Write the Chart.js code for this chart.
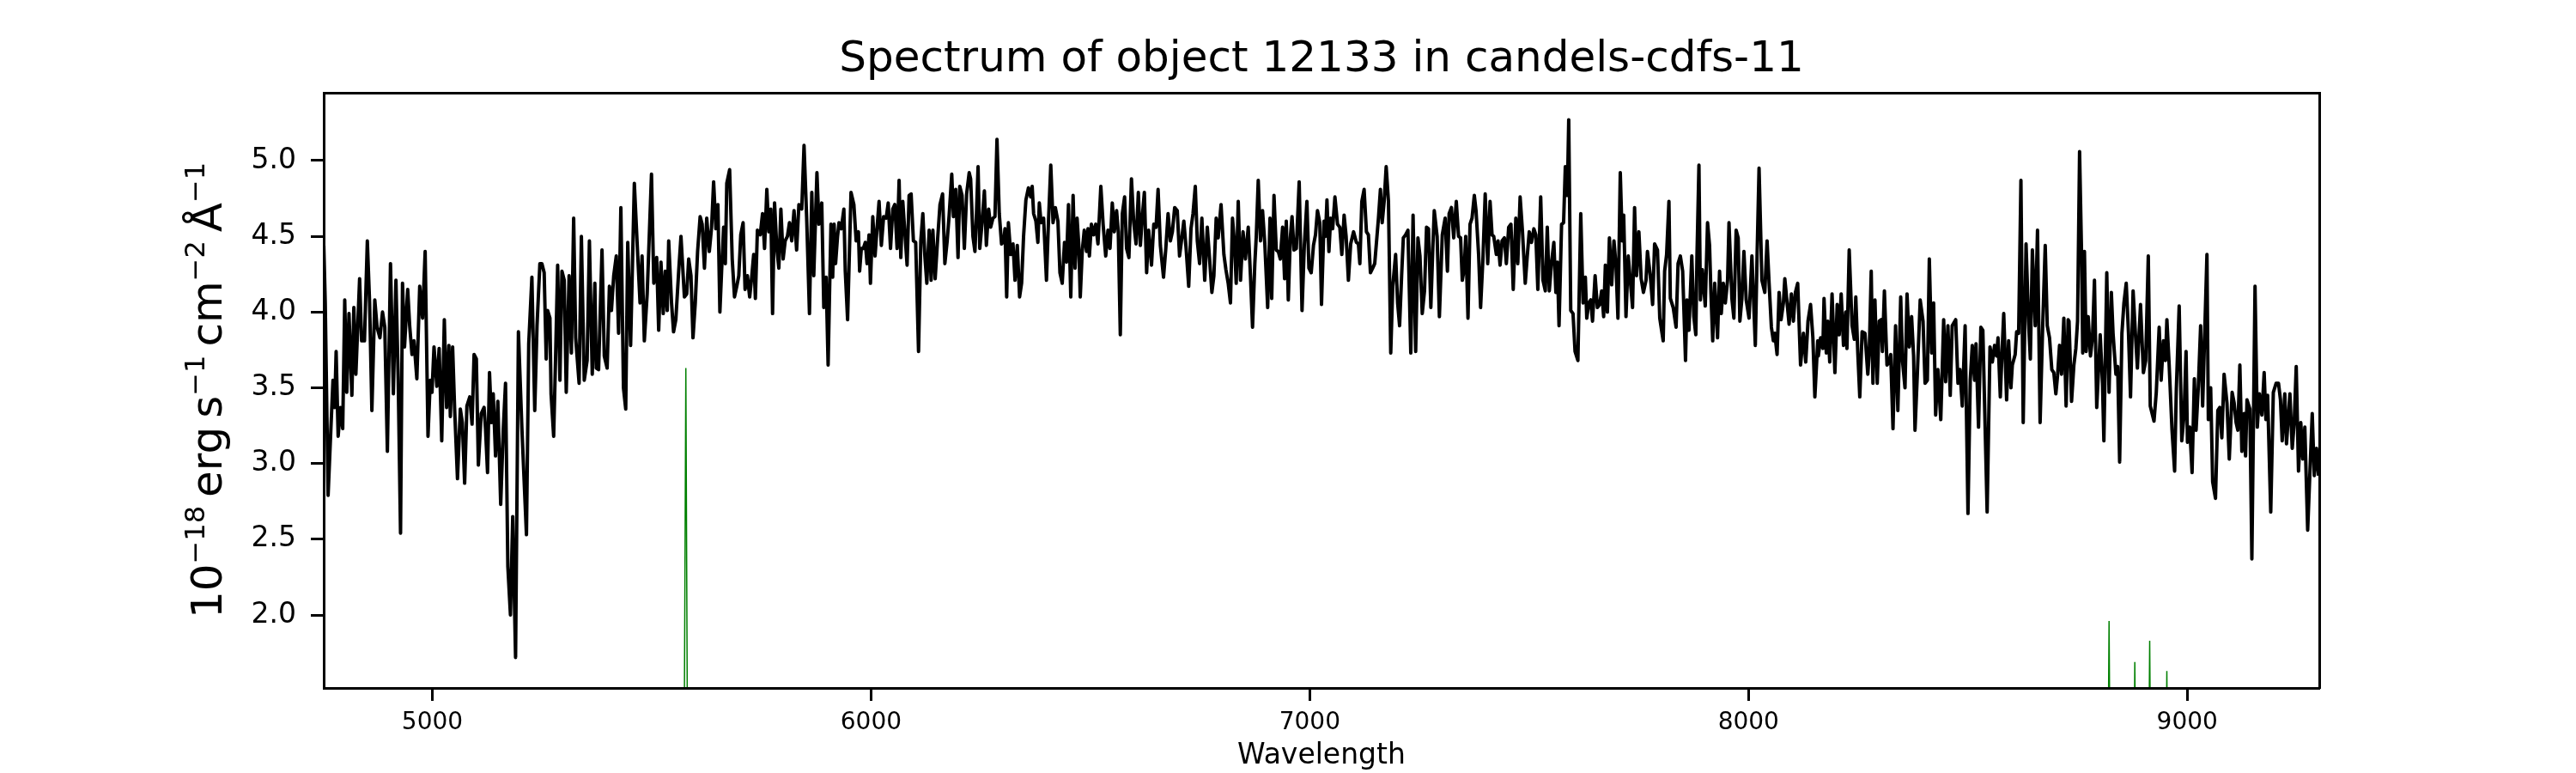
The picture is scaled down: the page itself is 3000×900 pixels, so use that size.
<!DOCTYPE html>
<html>
<head>
<meta charset="utf-8">
<title>Spectrum of object 12133 in candels-cdfs-11</title>
<script src="https://cdn.jsdelivr.net/npm/chart.js@4.4.1/dist/chart.umd.min.js"></script>
<style>
  html, body { margin: 0; padding: 0; background: #fff; }
  #chart { display: block; }
</style>
</head>
<body>
<canvas id="chart" width="3000" height="900"></canvas>
<script>
// Spectrum: wavelength in Angstrom, flux in 1e-18 erg/s/cm2/A
const wavelength = [
  4752.7, 4756.0, 4762.5, 4769.0, 4773.6, 4777.5, 4780.8, 4785.4, 4790.6, 4795.8,
  4800.4, 4805.0, 4810.1, 4816.7, 4821.2, 4825.8, 4834.3, 4838.9, 4845.4, 4851.9,
  4857.1, 4862.3, 4868.9, 4874.1, 4880.6, 4886.5, 4891.7, 4897.6, 4904.7, 4911.3,
  4917.1, 4922.3, 4927.6, 4932.1, 4936.7, 4943.9, 4948.4, 4953.7, 4958.2, 4964.8,
  4971.3, 4977.8, 4983.7, 4990.2, 4995.4, 4999.3, 5003.9, 5010.4, 5015.6, 5021.5,
  5027.4, 5032.6, 5037.8, 5041.1, 5046.3, 5050.9, 5057.4, 5063.9, 5068.5, 5073.7,
  5078.9, 5085.4, 5090.6, 5095.2, 5100.4, 5105.0, 5111.5, 5118.0, 5121.3, 5125.9,
  5130.4, 5135.0, 5138.9, 5144.1, 5149.4, 5155.9, 5161.7, 5166.9, 5172.2, 5178.1,
  5183.3, 5189.8, 5196.3, 5204.1, 5214.6, 5219.8, 5227.0, 5233.5, 5238.7, 5245.2,
  5249.8, 5255.0, 5259.6, 5262.9, 5268.1, 5270.7, 5276.6, 5281.1, 5285.7, 5290.9,
  5295.5, 5300.7, 5305.3, 5311.8, 5317.0, 5322.2, 5326.8,
  5334.6, 5339.8, 5346.3, 5352.9, 5358.1, 5364.6, 5370.5, 5373.7, 5379.0, 5386.8,
  5392.0, 5398.5, 5403.7, 5408.3, 5413.5, 5419.4, 5424.6, 5429.8, 5435.7, 5440.9,
  5445.5, 5452.0, 5460.5, 5468.3, 5473.5, 5478.1, 5483.3, 5489.8, 5499.6, 5504.9,
  5511.4, 5516.0, 5521.2, 5526.4, 5531.0, 5535.5, 5538.8, 5545.3, 5549.9, 5555.1,
  5561.6, 5566.8, 5574.6, 5579.9, 5584.4, 5589.6, 5594.2, 5599.4, 5604.7, 5610.5,
  5615.1, 5620.3, 5625.5, 5631.4, 5636.6, 5641.2, 5646.4, 5651.0, 5655.5, 5659.4,
  5664.0, 5667.9, 5671.2, 5677.7, 5683.6, 5688.8, 5694.0, 5698.6, 5703.1, 5708.4,
  5712.9, 5718.2, 5723.4, 5728.0, 5732.5, 5736.4, 5741.0, 5747.5, 5752.7, 5757.3,
  5762.5, 5767.1, 5771.6, 5775.6, 5780.1, 5785.3, 5789.9, 5794.5, 5799.7, 5804.3,
  5809.5, 5814.1, 5819.3, 5824.5, 5830.4, 5835.6, 5842.1, 5847.3, 5853.2, 5859.7,
  5865.0, 5869.5, 5876.7, 5881.2, 5887.7, 5892.3,
  5897.6, 5902.2, 5906.1, 5908.7, 5912.6, 5915.9, 5919.2, 5923.7, 5927.0, 5932.2,
  5938.1, 5941.3, 5946.6, 5954.4, 5960.9, 5966.1, 5971.3, 5974.0, 5977.9, 5982.4,
  5987.0, 5990.9, 5995.5, 5998.7, 6004.0, 6009.2, 6013.1, 6018.3, 6023.5, 6028.7,
  6034.6, 6039.2, 6044.4, 6049.6, 6054.2, 6059.4, 6064.0, 6067.9, 6072.4, 6077.7,
  6082.2, 6086.8, 6091.4, 6096.6, 6101.8, 6108.3, 6113.5, 6118.1, 6122.7, 6127.2,
  6132.5, 6137.0, 6141.0, 6146.2, 6152.0, 6157.2, 6163.1, 6168.3, 6173.6, 6178.1,
  6184.0, 6187.9, 6193.1, 6198.3, 6202.3, 6207.5, 6212.7, 6217.9, 6223.8, 6227.0,
  6232.3, 6236.8, 6240.1, 6244.0, 6247.9, 6253.1, 6258.4, 6262.9, 6268.1, 6272.7,
  6277.9, 6282.5, 6287.1, 6292.3, 6297.5, 6302.7, 6305.3, 6309.2, 6313.1, 6318.4,
  6323.6, 6328.2, 6333.4, 6338.6, 6343.2, 6347.7, 6353.0, 6358.8, 6364.0, 6367.3,
  6370.6, 6375.8, 6380.3, 6383.6, 6387.5, 6393.4, 6399.9, 6404.5, 6409.7, 6414.9,
  6420.1, 6426.0, 6430.6, 6435.8, 6441.0, 6445.6, 6450.1, 6455.3, 6460.6,
  6465.1, 6469.7, 6473.6, 6476.9, 6481.4, 6486.0, 6491.2, 6494.5, 6497.7, 6502.3,
  6507.6, 6512.1, 6517.3, 6523.8, 6529.0, 6534.9, 6540.1, 6544.7, 6549.9, 6554.5,
  6559.7, 6563.6, 6568.2, 6572.8, 6578.0, 6582.5, 6587.8, 6593.6, 6598.8, 6604.1,
  6609.3, 6613.9, 6618.4, 6623.0, 6628.2, 6632.8, 6639.3, 6644.5, 6649.7, 6654.3,
  6659.5, 6666.7, 6671.9, 6677.1, 6682.3, 6686.9, 6692.1, 6698.0, 6703.2, 6708.4,
  6713.0, 6718.2, 6724.1, 6729.3, 6733.9, 6739.1, 6743.7, 6748.9, 6754.1, 6760.6,
  6766.5, 6771.7, 6776.9, 6781.5, 6786.7, 6791.3, 6797.8, 6804.3, 6808.9, 6814.1,
  6819.3, 6823.9, 6828.5, 6832.4, 6837.0, 6842.2, 6848.0, 6853.3, 6859.8, 6865.0,
  6869.6, 6874.8, 6878.1, 6882.6, 6887.8, 6892.4, 6897.6, 6904.1, 6909.4, 6913.3,
  6918.5, 6923.7, 6928.3, 6932.8, 6938.1, 6942.6, 6946.5, 6951.1, 6955.7, 6959.6,
  6964.1, 6969.4, 6975.9, 6982.4, 6987.6, 6993.5, 6998.1, 7003.3, 7008.5, 7013.1,
  7017.6, 7022.9, 7026.8,
  7032.6, 7035.9, 7039.2, 7043.7, 7047.6, 7052.2, 7057.4, 7063.3, 7068.5, 7073.1,
  7078.3, 7082.9, 7088.1, 7093.3, 7099.8, 7106.3, 7110.9, 7114.2, 7118.7, 7123.9,
  7129.2, 7133.7, 7138.3, 7143.5, 7148.1, 7156.6, 7161.1, 7165.1, 7169.6, 7174.2,
  7179.4, 7184.6, 7189.2, 7195.7, 7200.3, 7204.8, 7209.4, 7213.3, 7218.5, 7223.8,
  7230.3, 7235.5, 7241.4, 7246.6, 7251.2, 7256.4, 7261.6, 7266.2, 7270.7, 7276.0,
  7280.5, 7283.8, 7290.3, 7295.5, 7302.1, 7308.6, 7313.8, 7317.7, 7322.9, 7328.1,
  7334.0, 7339.2, 7343.8, 7347.7, 7352.3, 7355.5, 7360.7, 7365.3, 7369.9, 7375.1,
  7379.0, 7384.9, 7389.4, 7394.7, 7399.9, 7405.7, 7411.0, 7415.5, 7419.4, 7425.3,
  7429.2, 7433.8, 7438.4, 7443.6, 7448.1, 7453.4, 7458.6, 7463.8, 7469.7, 7474.2,
  7479.5, 7484.7, 7491.2, 7495.8, 7500.3, 7505.5, 7510.8, 7515.3, 7519.9, 7526.4,
  7531.6, 7536.9, 7541.4, 7546.0, 7551.2, 7556.4, 7561.0, 7564.3, 7568.2, 7574.0,
  7578.6, 7582.5, 7587.1, 7590.3, 7594.9,
  7600.1, 7604.7, 7611.2, 7617.7, 7623.0, 7628.2, 7631.4, 7636.0, 7640.6, 7644.5,
  7650.4, 7655.6, 7660.8, 7665.4, 7669.9, 7673.8, 7678.4, 7683.0, 7688.2, 7693.4,
  7698.0, 7702.5, 7707.8, 7712.3, 7715.6, 7720.8, 7726.0, 7730.6, 7735.8, 7740.4,
  7744.9, 7750.2, 7755.4, 7760.6, 7766.5, 7769.7, 7776.3, 7781.5, 7786.0, 7792.6,
  7797.8, 7805.6, 7808.9, 7813.4, 7818.7, 7821.9, 7828.4, 7835.0, 7839.5, 7844.7,
  7850.0, 7856.5, 7859.7, 7864.3, 7870.8, 7875.4, 7880.0, 7882.6, 7887.1, 7890.4,
  7895.0, 7901.5, 7906.7, 7911.3, 7914.5, 7918.5, 7923.0, 7929.5, 7934.1, 7938.0,
  7942.6, 7947.2, 7952.4, 7955.6, 7962.2, 7966.7, 7971.9, 7976.5, 7980.4, 7985.0,
  7989.6, 7994.8, 8001.3, 8007.8, 8015.6, 8019.6, 8024.1, 8030.6, 8037.2, 8042.4,
  8047.0, 8052.2, 8056.7, 8060.0, 8065.2, 8069.8, 8074.3, 8079.6, 8082.8, 8087.4,
  8092.6, 8097.8, 8102.4, 8107.0, 8112.2, 8118.7, 8125.2, 8130.5, 8135.7, 8141.5,
  8146.8, 8151.3, 8157.9,
  8159.2, 8164.4, 8169.6, 8172.2, 8177.4, 8180.7, 8185.2, 8190.5, 8197.0, 8202.2,
  8206.8, 8211.3, 8216.6, 8221.8, 8224.4, 8229.6, 8236.1, 8241.3, 8244.6, 8249.2,
  8253.7, 8259.0, 8265.5, 8272.0, 8275.3, 8279.8, 8283.7, 8288.3, 8293.5, 8298.1,
  8302.7, 8305.3, 8309.8, 8315.7, 8320.9, 8324.2, 8329.4, 8335.3, 8340.5, 8347.0,
  8351.0, 8356.8, 8361.4, 8366.6, 8371.8, 8376.4, 8379.6, 8384.9, 8391.4, 8397.9,
  8402.5, 8407.7, 8412.2, 8417.5, 8422.0, 8426.6, 8431.8, 8438.3, 8444.9, 8449.4,
  8454.6, 8459.9, 8464.4, 8472.3, 8477.5, 8482.0, 8487.3, 8493.8, 8500.3, 8505.5,
  8510.1, 8515.3, 8518.6, 8524.4, 8529.7, 8534.2, 8539.4, 8544.0, 8550.5, 8555.8,
  8561.0, 8565.5, 8568.8, 8574.0, 8578.6, 8581.8, 8588.4, 8592.9, 8598.2, 8601.4,
  8607.9, 8611.2, 8615.8, 8621.0, 8626.2, 8632.7, 8638.6, 8642.5, 8647.1, 8653.6,
  8658.8, 8664.7, 8670.6, 8676.4, 8681.0, 8686.2, 8691.4, 8696.0, 8700.6, 8704.5,
  8709.0, 8713.6, 8718.8, 8724.0, 8728.6,
  8730.6, 8736.4, 8741.7, 8746.2, 8750.1, 8754.7, 8759.3, 8761.9, 8765.8, 8769.7,
  8774.3, 8779.5, 8784.1, 8788.6, 8793.8, 8801.7, 8806.9, 8810.1, 8816.7, 8821.9,
  8827.1, 8831.0, 8837.5, 8841.5, 8846.0, 8851.2, 8855.8, 8861.0, 8866.2, 8870.8,
  8876.7, 8881.9, 8886.5, 8893.6, 8900.2, 8905.4, 8911.3, 8915.8, 8924.3, 8929.5,
  8936.1, 8940.6, 8945.8, 8950.4, 8953.7, 8958.9, 8965.4, 8971.3, 8975.2, 8981.7,
  8987.6, 8992.8, 8997.4, 9000.6, 9005.8, 9011.1, 9016.3, 9020.2, 9025.4, 9030.6,
  9035.2, 9045.0, 9048.2, 9053.5, 9058.0, 9064.5, 9069.8, 9074.3, 9078.9, 9084.1,
  9090.6, 9095.9, 9102.4, 9107.0, 9111.5, 9115.4, 9120.0, 9124.6, 9129.8, 9133.0,
  9136.3, 9142.8, 9147.4, 9154.6, 9159.8, 9164.4, 9170.2, 9175.4, 9179.4, 9183.3,
  9190.4, 9196.3, 9202.8, 9208.1, 9212.6, 9216.5, 9222.4, 9226.3, 9234.1, 9239.4,
  9243.9, 9248.5, 9253.7, 9258.9, 9263.5, 9268.1, 9274.6, 9279.8, 9285.0, 9289.6,
  9294.8, 9299.4
];

const flux = [
  4.44, 4.06, 2.79, 3.24, 3.55, 3.37, 3.74, 3.18, 3.37, 3.23,
  4.08, 3.47, 3.99, 3.45, 4.03, 3.59, 4.22, 3.81, 3.81, 4.47,
  4.06, 3.35, 4.08, 3.90, 3.83, 4.00, 3.90, 3.08, 4.32, 3.46,
  4.21, 3.55, 2.54, 4.19, 3.77, 4.15, 3.91, 3.72, 3.81, 3.56,
  4.17, 3.96, 4.40, 3.18, 3.55, 3.47, 3.77, 3.51, 3.76, 3.15,
  3.95, 3.37, 3.78, 3.31, 3.77, 3.36, 2.90, 3.36, 3.27, 2.87,
  3.38, 3.44, 3.26, 3.72, 3.69, 2.99, 3.33, 3.37, 3.23, 2.94,
  3.60, 3.27, 3.46, 3.05, 3.41, 2.73, 3.22, 3.53, 2.32, 2.00,
  2.65, 1.72, 3.87, 3.24, 2.53, 3.79, 4.23, 3.35, 3.91, 4.32,
  4.32, 4.26, 3.69, 4.01, 3.96, 3.46, 3.18, 3.71, 4.31, 3.55,
  4.27, 4.21, 3.47, 4.24, 3.73, 4.62, 3.83,
  3.53, 4.50, 3.55, 3.68, 4.47, 3.59, 4.19, 3.63, 3.62, 4.41,
  3.71, 3.63, 4.17, 4.01, 4.24, 4.37, 3.86, 4.69, 3.50, 3.36,
  4.46, 3.78, 4.85, 4.37, 4.06, 4.37, 3.81, 4.12, 4.91, 4.19,
  4.36, 3.88, 4.33, 3.99, 4.27, 4.01, 4.47, 4.06, 3.87, 3.95,
  4.27, 4.50, 4.10, 4.12, 4.35, 4.24, 3.83, 4.06, 4.40, 4.63,
  4.58, 4.29, 4.62, 4.40, 4.56, 4.86, 4.55, 4.71, 4.00, 4.27,
  4.56, 4.32, 4.85, 4.94, 4.35, 4.10, 4.17, 4.24, 4.51, 4.59,
  4.15, 4.24, 4.10, 4.23, 4.38, 4.09, 4.54, 4.51, 4.65, 4.42,
  4.81, 4.53, 4.68, 3.99, 4.72, 4.42, 4.29, 4.68, 4.35, 4.47,
  4.50, 4.59, 4.47, 4.67, 4.41, 4.71, 4.68, 5.10, 4.63, 3.99,
  4.79, 4.24, 4.92, 4.58, 4.72, 4.03,
  4.23, 3.65, 4.22, 4.58, 4.23, 4.58, 4.32, 4.50, 4.59, 4.55,
  4.68, 4.27, 3.95, 4.79, 4.71, 4.47, 4.53, 4.27, 4.42, 4.42,
  4.46, 4.32, 4.51, 4.19, 4.63, 4.37, 4.53, 4.73, 4.44, 4.63,
  4.62, 4.72, 4.42, 4.68, 4.71, 4.42, 4.87, 4.36, 4.73, 4.50,
  4.31, 4.77, 4.78, 4.47, 4.46, 3.74, 4.47, 4.65, 4.37, 4.19,
  4.54, 4.21, 4.54, 4.22, 4.49, 4.71, 4.78, 4.32, 4.47, 4.64,
  4.91, 4.63, 4.81, 4.36, 4.83, 4.77, 4.42, 4.78, 4.92, 4.88,
  4.50, 4.40, 4.63, 4.96, 4.42, 4.59, 4.80, 4.44, 4.68, 4.56,
  4.62, 4.63, 5.14, 4.65, 4.45, 4.47, 4.55, 4.10, 4.59, 4.38,
  4.45, 4.21, 4.44, 4.10, 4.19, 4.50, 4.74, 4.82, 4.76, 4.83,
  4.65, 4.60, 4.46, 4.72, 4.59, 4.62, 4.21, 4.60, 4.97, 4.59,
  4.69, 4.60, 4.26, 4.19, 4.46, 4.33, 4.71, 4.10, 4.77,
  4.29, 4.62, 4.44, 4.10, 4.40, 4.54, 4.40, 4.55, 4.37, 4.58,
  4.51, 4.58, 4.45, 4.83, 4.58, 4.37, 4.54, 4.42, 4.72, 4.53,
  4.67, 4.53, 3.85, 4.65, 4.76, 4.42, 4.36, 4.88, 4.59, 4.45,
  4.79, 4.44, 4.63, 4.79, 4.26, 4.54, 4.31, 4.58, 4.56, 4.81,
  4.44, 4.23, 4.42, 4.65, 4.47, 4.53, 4.69, 4.67, 4.37, 4.49,
  4.60, 4.42, 4.17, 4.55, 4.65, 4.83, 4.47, 4.32, 4.62, 4.21,
  4.56, 4.35, 4.13, 4.24, 4.62, 4.49, 4.71, 4.38, 4.28, 4.19,
  4.06, 4.62, 4.45, 4.19, 4.73, 4.21, 4.53, 4.35, 4.56, 4.23,
  3.90, 4.32, 4.50, 4.87, 4.47, 4.67, 4.45, 4.03, 4.62, 4.09,
  4.77, 4.41, 4.40, 4.35, 4.56, 4.22, 4.60, 4.08, 4.49, 4.63,
  4.41, 4.42, 4.86, 4.01, 4.44, 4.73, 4.29, 4.26, 4.44, 4.51,
  4.67, 4.59, 4.05,
  4.60, 4.50, 4.74, 4.40, 4.62, 4.55, 4.76, 4.58, 4.56, 4.38,
  4.64, 4.50, 4.21, 4.45, 4.53, 4.46, 4.45, 4.32, 4.73, 4.81,
  4.53, 4.51, 4.26, 4.29, 4.32, 4.62, 4.81, 4.59, 4.73, 4.96,
  4.73, 3.73, 4.17, 4.38, 4.06, 3.91, 4.24, 4.49, 4.51, 4.54,
  3.73, 4.64, 3.74, 4.49, 4.37, 3.99, 4.14, 4.56, 4.55, 4.03,
  4.42, 4.67, 4.50, 3.97, 4.51, 4.62, 4.27, 4.65, 4.69, 4.49,
  4.73, 4.50, 4.49, 4.21, 4.29, 4.50, 3.96, 4.58, 4.62, 4.77,
  4.67, 4.38, 4.03, 4.35, 4.78, 4.32, 4.73, 4.51, 4.50, 4.38,
  4.47, 4.31, 4.47, 4.49, 4.32, 4.56, 4.58, 4.15, 4.62, 4.32,
  4.76, 4.54, 4.19, 4.37, 4.53, 4.46, 4.55, 4.51, 4.15, 4.76,
  4.21, 4.14, 4.56, 4.14, 4.33, 4.46, 4.13, 4.33, 3.91, 4.58,
  4.59, 4.96, 4.77, 5.27, 4.01,
  3.99, 3.74, 3.68, 4.65, 4.06, 4.23, 3.96, 4.06, 4.08, 3.94,
  4.24, 4.03, 4.05, 4.14, 3.97, 4.31, 4.00, 4.49, 4.18, 4.47,
  4.31, 3.96, 4.92, 4.47, 4.64, 3.97, 4.37, 4.21, 4.03, 4.69,
  4.24, 4.53, 4.22, 4.13, 4.21, 4.40, 4.24, 4.05, 4.45, 4.41,
  3.96, 3.81, 4.27, 4.38, 4.73, 4.09, 4.03, 3.90, 4.32, 4.37,
  4.27, 3.68, 4.08, 3.88, 4.37, 3.97, 3.85, 4.37, 4.97, 4.08,
  4.28, 4.04, 4.59, 4.44, 4.12, 3.81, 4.19, 3.83, 4.27, 3.99,
  4.19, 4.06, 4.21, 4.59, 4.09, 3.96, 4.54, 4.49, 3.94, 4.09,
  4.40, 4.08, 3.96, 4.37, 3.78, 4.37, 4.95, 4.21, 4.13, 4.47,
  4.19, 3.90, 3.81, 3.86, 3.72, 4.13, 3.95, 4.06, 4.22, 4.08,
  3.92, 4.12, 3.94, 4.13, 4.19, 3.65, 3.86, 3.67, 3.94, 4.05,
  3.83, 3.44, 3.81,
  3.71, 3.83, 3.76, 4.09, 3.73, 3.94, 3.67, 4.12, 3.60, 4.05,
  3.85, 4.12, 3.78, 4.00, 3.76, 4.41, 3.91, 3.82, 4.10, 3.73,
  3.44, 3.87, 3.86, 3.59, 3.73, 4.27, 3.53, 4.08, 3.53, 3.94,
  3.95, 3.74, 4.14, 3.65, 3.67, 3.72, 3.23, 3.91, 3.35, 4.10,
  3.68, 3.50, 4.12, 3.77, 3.97, 3.71, 3.22, 3.59, 4.08, 3.94,
  3.53, 3.55, 4.35, 3.73, 4.06, 3.32, 3.62, 3.29, 3.95, 3.54,
  3.91, 3.45, 3.91, 3.95, 3.53, 3.62, 3.38, 3.91, 2.67, 3.55,
  3.78, 3.55, 3.79, 3.24, 3.90, 3.88, 3.24, 2.68, 3.77, 3.67,
  3.78, 3.71, 3.83, 3.44, 3.78, 3.99, 3.42, 3.81, 3.50, 3.65,
  3.72, 3.87, 3.86, 4.87, 3.27, 4.45, 3.92, 3.69, 4.41, 3.91,
  4.54, 3.27, 3.91, 4.44, 3.91, 3.83, 3.62, 3.60, 3.46, 3.58,
  3.78, 3.59, 3.96, 3.38, 3.95,
  3.94, 3.41, 3.65, 3.76, 3.94, 5.06, 4.37, 3.73, 4.40, 3.74,
  3.97, 3.71, 3.83, 4.21, 3.37, 3.85, 3.53, 3.15, 4.26, 3.47,
  4.13, 3.86, 3.59, 3.64, 3.01, 3.86, 4.06, 4.19, 3.86, 3.44,
  4.14, 3.86, 3.63, 4.05, 3.60, 3.68, 4.37, 3.38, 3.28, 3.47,
  3.90, 3.55, 3.81, 3.68, 3.95, 3.65, 3.22, 2.95, 3.49, 4.04,
  3.15, 3.32, 3.74, 3.14, 3.24, 2.94, 3.56, 3.22, 3.51, 3.91,
  3.38, 4.38, 3.29, 3.50, 2.88, 2.77, 3.35, 3.37, 3.17, 3.59,
  3.40, 3.03, 3.47, 3.40, 3.27, 3.22, 3.65, 3.08, 3.33, 3.05,
  3.42, 3.36, 2.37, 4.17, 3.24, 3.46, 3.32, 3.60, 3.29, 3.45,
  2.68, 3.47, 3.53, 3.53, 3.42, 3.15, 3.46, 3.13, 3.46, 3.10,
  3.27, 3.64, 2.95, 3.27, 3.03, 3.24, 2.56, 2.95, 3.33, 2.92,
  3.10, 2.92
];

// Sky spectrum (green): zero except the night-sky lines
const skyWavelength = [4752.5, 5572.5, 5577.9, 5583.3, 8817.3, 8821.9, 8826.5, 8876.0, 8880.6,
  8885.2, 8909.9, 8914.5, 8919.1, 8949.0, 8953.6, 8958.2, 9301.0];
const skyFlux = [0, 0, 3.63, 0, 0, 1.96, 0, 0, 1.69, 0, 0, 1.83, 0, 0, 1.63, 0, 0];

const xTicks = [5000, 6000, 7000, 8000, 9000];
const yTicks = [2.0, 2.5, 3.0, 3.5, 4.0, 4.5, 5.0];

const titleText = "Spectrum of object 12133 in candels-cdfs-11";
const xLabel = "Wavelength";
// y label pieces: [text, superscript?]
const yLabelParts = [
  ["10", false], ["\u221218", true], ["\u2009erg\u2009s", false], ["\u22121", true],
  ["\u2009cm", false], ["\u22122", true], ["\u2009\u00c5", false], ["\u22121", true]
];

const FONT = '"DejaVu Sans", sans-serif';
Chart.defaults.font.family = FONT;
Chart.defaults.color = "#000";

const xMin = 4752.5, xMax = 9301;
const yMin = 1.518, yMax = 5.448;

// title, axis labels
const labelPlugin = {
  id: "labels",
  afterDraw(chart) {
    const { ctx, chartArea } = chart;
    const cx = (chartArea.left + chartArea.right) / 2;
    const cy = (chartArea.top + chartArea.bottom) / 2;
    ctx.save();
    ctx.fillStyle = "#000";
    ctx.textAlign = "center";
    ctx.textBaseline = "alphabetic";
    ctx.font = "50px " + FONT;
    ctx.fillText(titleText, cx, 83);
    ctx.font = "33px " + FONT;
    ctx.fillText(xLabel, cx, 889);

    // rotated y label with superscripts
    ctx.translate(258, cy);
    ctx.rotate(-Math.PI / 2);
    ctx.textAlign = "left";
    const big = "50px " + FONT;
    const small = "32px " + FONT;
    const widths = yLabelParts.map(([t, sup]) => {
      ctx.font = sup ? small : big;
      return ctx.measureText(t).width;
    });
    const total = widths.reduce((a, b) => a + b, 0);
    let pos = -total / 2;
    yLabelParts.forEach(([t, sup], i) => {
      ctx.font = sup ? small : big;
      ctx.fillText(t, pos, sup ? -20 : 0);
      pos += widths[i];
    });
    ctx.restore();
  }
};

const tickGrid = { drawOnChartArea: false, tickLength: 15, tickWidth: 3, tickColor: "#000" };
const axisBorder = { color: "#000", width: 3, z: 1 };

const ctx = document.getElementById("chart").getContext("2d");
const chart = new Chart(ctx, {
  type: "line",
  data: {
    datasets: [
      {
        label: "flux",
        data: wavelength.map((w, i) => ({ x: w, y: flux[i] })),
        borderColor: "#000",
        borderWidth: 4,
        borderJoinStyle: "round",
        pointRadius: 0,
        tension: 0,
        clip: 0
      },
      {
        label: "sky",
        data: skyWavelength.map((w, i) => ({ x: w, y: skyFlux[i] })),
        borderColor: "#008000",
        borderWidth: 1.5,
        pointRadius: 0,
        tension: 0,
        clip: 0
      }
    ]
  },
  options: {
    responsive: false,
    animation: false,
    devicePixelRatio: 1,
    events: [],
    layout: { autoPadding: false, padding: { left: 257, right: 299, top: 108, bottom: 19 } },
    plugins: {
      legend: { display: false },
      tooltip: { enabled: false },
      title: { display: false }
    },
    scales: {
      x: {
        type: "linear",
        position: "bottom",
        min: xMin,
        max: xMax,
        afterBuildTicks: (axis) => { axis.ticks = xTicks.map((v) => ({ value: v })); },
        afterFit: (axis) => { axis.height = 80; },
        ticks: { font: { size: 28 }, color: "#000", padding: 9, maxRotation: 0, callback: (v) => String(v) },
        grid: tickGrid,
        border: axisBorder
      },
      y: {
        type: "linear",
        position: "left",
        min: yMin,
        max: yMax,
        afterBuildTicks: (axis) => { axis.ticks = yTicks.map((v) => ({ value: v })); },
        afterFit: (axis) => { axis.width = 120; },
        ticks: { font: { size: 33 }, color: "#000", padding: 17, callback: (v) => Number(v).toFixed(1) },
        grid: tickGrid,
        border: axisBorder
      },
      xTop: {
        type: "linear",
        position: "top",
        display: true,
        min: xMin,
        max: xMax,
        afterFit: (axis) => { axis.height = 0; },
        ticks: { display: false },
        grid: { display: false, drawTicks: false },
        border: axisBorder
      },
      yRight: {
        type: "linear",
        position: "right",
        display: true,
        min: yMin,
        max: yMax,
        afterFit: (axis) => { axis.width = 0; },
        ticks: { display: false },
        grid: { display: false, drawTicks: false },
        border: axisBorder
      }
    }
  },
  plugins: [labelPlugin]
});
</script>
</body>
</html>
